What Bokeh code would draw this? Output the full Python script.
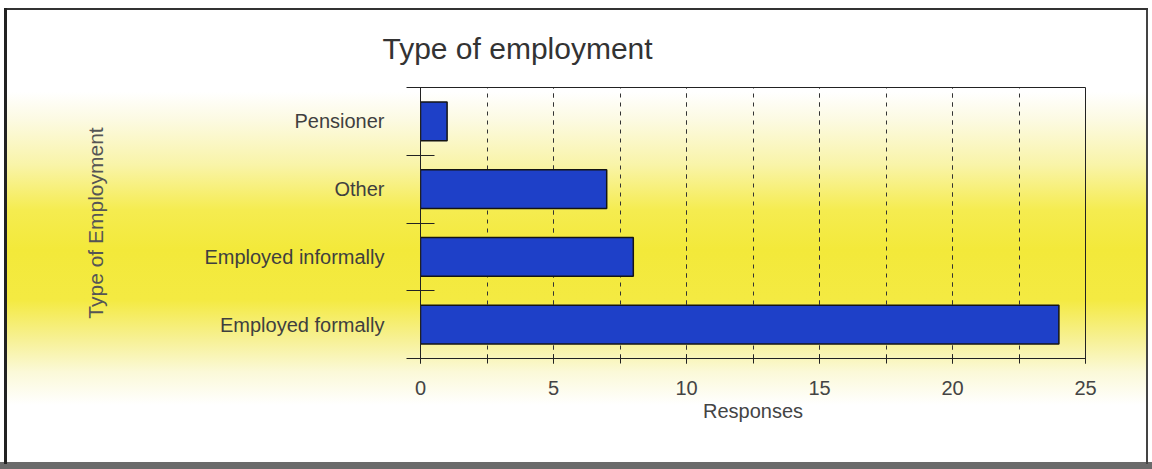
from bokeh.plotting import figure
from bokeh.models import Range1d, FixedTicker, SingleIntervalTicker
from bokeh.embed import file_html
from bokeh.resources import INLINE

# ---- data (bottom to top) ----
categories = ["Employed formally", "Employed informally", "Other", "Pensioner"]
responses = [24, 8, 7, 1]
x_ticks = [0, 5, 10, 15, 20, 25]

title_text = "Type of employment"
x_label = "Responses"
y_label = "Type of Employment"

ypos = [i + 0.5 for i in range(len(categories))]
bounds = [i for i in range(len(categories) + 1)]

FONT = "Liberation Sans"

bg = ", ".join([
    "linear-gradient(#222,#222) 4px 8px / 3px 456px no-repeat",
    "linear-gradient(#333,#333) 4px 8px / 1144px 2px no-repeat",
    "linear-gradient(#444,#444) 1146px 8px / 2px 456px no-repeat",
    "linear-gradient(#6a6a6a,#6a6a6a) 0px 462px / 1152px 7px no-repeat",
    "linear-gradient(to bottom, #ffffff 0px, #ffffff 82px, #fcfae2 110px, "
    "#f9f4a8 155px, #f5ec50 200px, #f3e93a 240px, #f4ea42 290px, "
    "#f7f196 330px, #fbf9d8 362px, #ffffff 395px, #ffffff 100%) 7px 10px / 1139px 452px no-repeat",
    "#ffffff",
])

p = figure(width=1152, height=469, output_backend="svg", toolbar_location=None,
           x_range=Range1d(0, 25), y_range=Range1d(0, len(categories)),
           min_border_left=420, min_border_right=67, min_border_top=87, min_border_bottom=111)
p.styles = {"background": bg}
p.border_fill_alpha = 0
p.background_fill_alpha = 0
p.outline_line_color = "#222222"
p.outline_line_width = 1

p.hbar(y=ypos, right=responses, left=0, height=0.57,
       fill_color="#1e40c8", line_color="#141414", line_width=1.5)

# x axis
xa = p.xaxis[0]
xa.ticker = SingleIntervalTicker(interval=5, num_minor_ticks=2)
xa.axis_label = x_label
xa.axis_label_text_font = FONT
xa.axis_label_text_font_size = "20px"
xa.axis_label_text_font_style = "normal"
xa.axis_label_text_color = "#444444"
xa.axis_label_standoff = 2
xa.major_label_text_font = FONT
xa.major_label_text_font_size = "20px"
xa.major_label_text_color = "#444444"
xa.major_label_standoff = 17
xa.major_tick_out = 5
xa.major_tick_in = 4
xa.minor_tick_out = 5
xa.minor_tick_in = 4
xa.axis_line_color = "#222222"
xa.major_tick_line_color = "#222222"
xa.minor_tick_line_color = "#222222"

# y axis
ya = p.yaxis[0]
ya.ticker = FixedTicker(ticks=ypos, minor_ticks=bounds)
ya.major_label_overrides = {y: c for y, c in zip(ypos, categories)}
ya.axis_label = y_label
ya.axis_label_text_font = FONT
ya.axis_label_text_font_size = "21px"
ya.axis_label_text_font_style = "normal"
ya.axis_label_text_color = "#555555"
ya.axis_label_standoff = 94
ya.major_label_text_font = FONT
ya.major_label_text_font_size = "20px"
ya.major_label_text_color = "#3f3f3f"
ya.major_label_standoff = 22
ya.major_tick_out = 0
ya.major_tick_in = 0
ya.minor_tick_out = 14
ya.minor_tick_in = 14
ya.minor_tick_line_color = "#222222"
ya.axis_line_color = "#222222"

# grid
p.ygrid.grid_line_color = None
p.xgrid.grid_line_color = "#333333"
p.xgrid.grid_line_dash = "4 5"
p.xgrid.minor_grid_line_color = "#333333"
p.xgrid.minor_grid_line_dash = "4 5"

# title
p.title.text = title_text
p.title.text_font = FONT
p.title.text_font_size = "30px"
p.title.text_font_style = "normal"
p.title.text_color = "#333333"
p.title.align = "left"
p.title.offset = -38
p.title.standoff = 46

open("out.html", "w").write(file_html(p, INLINE))
